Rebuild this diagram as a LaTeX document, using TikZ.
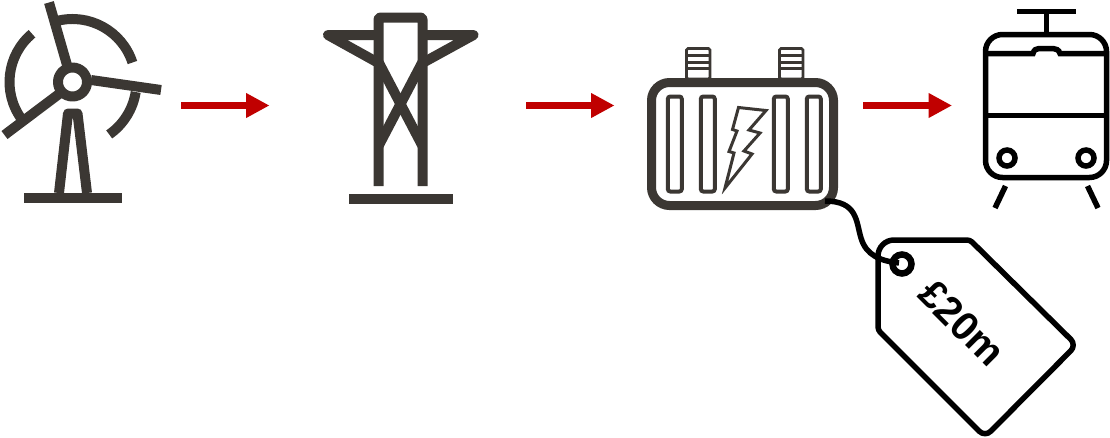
\documentclass[tikz,border=0pt]{standalone}
\usepackage{fontspec}
\setmainfont{Liberation Sans}
\usetikzlibrary{arrows.meta}
\definecolor{ink}{HTML}{3B3733}
\definecolor{flow}{HTML}{C00000}
\tikzset{
  icon/.style={draw=ink,line width=10pt,line join=round},
  thin part/.style={draw=ink,line width=4pt,rounded corners=2.5pt},
  blk/.style={draw=black,line width=5.5pt},
  flow arrow/.style={draw=flow,line width=7.5pt,-{Triangle[length=23.5pt,width=23.5pt,fill=flow]}},
}
\begin{document}
\begin{tikzpicture}[x=1pt,y=-1pt]
\useasboundingbox (0,0) rectangle (1110,437);
% turbine
\coordinate (hub) at (72.5,82);
\draw[icon] (hub) circle[radius=14.5];
\draw[icon] (49,2.5) -- (67,65);
\draw[icon] (91,80) -- (161,90);
\draw[icon] (4.5,135) -- (59,94);
\draw[icon] ([shift={(-104:63)}]hub) arc[start angle=-104,end angle=-18,radius=63];
\draw[icon] ([shift={(-130:63)}]hub) arc[start angle=-130,end angle=-216,radius=63];
\draw[icon] ([shift={(9:64)}]hub) arc[start angle=9,end angle=55,radius=64];
\draw[icon] (59,193) -- (68,113.5) -- (77.5,113.5) -- (87,193);
\draw[icon,line join=miter] (24,197.5) -- (122,197.5);
% pylon
\draw[icon,rounded corners=2pt] (378.5,186) -- (378.5,17.5) -- (422.5,17.5) -- (422.5,186);
\draw[icon] (378.5,35) -- (328,35) -- (378.5,63);
\draw[icon] (422.5,35) -- (473.5,35) -- (422.5,63);
\draw[icon] (378.5,62) -- (422.5,146);
\draw[icon] (422.5,62) -- (378.5,146);
\draw[icon,line join=miter] (349,199) -- (453,199);
% transformer
\foreach \xx in {686,779}{
  \draw[draw=ink,line width=2.8pt,rounded corners=1.5pt,fill=white] (\xx+0.5,48.5) rectangle (\xx+24,79);
  \foreach \yy in {55.3,62,68.8}{
    \draw[draw=ink,line width=3pt] (\xx+0.5,\yy) -- (\xx+24,\yy);
  }
}
\draw[draw=ink,line width=9pt,rounded corners=18pt,fill=white] (651.5,82.5) rectangle (833.5,205.5);
\foreach \xx in {666,699,772,805}{
  \draw[thin part] (\xx+1.8,96.5) rectangle (\xx+15.8,191.5);
}
\draw[draw=ink,line width=3pt,line join=miter,miter limit=20] (738.5,107.5) -- (766,110.5) -- (749,130) -- (760,133) -- (744,151) -- (752,154) -- (725,188) -- (734,153) -- (729,151.5) -- (737,131) -- (732.5,129.5) -- cycle;
% train
\draw[blk] (1017,11.5) -- (1076,11.5);
\draw[blk] (1046.5,14) -- (1046.5,34);
\draw[blk,rounded corners=17pt] (985.5,34.5) rectangle (1106.5,177.5);
\draw[blk] (985.5,53.5) -- (1033,53.5) .. controls (1034,50) and (1036,48.5) .. (1039,48.5) -- (1053,48.5) .. controls (1056,48.5) and (1059,50) .. (1060,53.5) -- (1106.5,53.5);
\draw[blk] (985.5,115.5) -- (1106.5,115.5);
\draw[blk] (1007,158) circle[radius=8];
\draw[blk] (1086,158) circle[radius=8];
\draw[blk] (1005.5,186) -- (995,208);
\draw[blk] (1087.5,186) -- (1098,208);
% tag
\coordinate (hole) at (902,264);
\draw[blk,rounded corners=8pt,line join=round] (878,300) [rounded corners=16pt] -- (878,240) [rounded corners=3pt] -- (970,240) [rounded corners=8pt] -- (1076.5,345) -- (985,437) [rounded corners=3pt] -- (878,330) -- cycle;
\draw[draw=black,line width=6.5pt] (hole) circle[radius=9.5];
\draw[draw=black,line width=5.5pt] (825,201) .. controls (858,201) and (856,222) .. (861,238) .. controls (866,255) and (880,261) .. (899,263);
\node[rotate=-45,font=\bfseries\fontsize{40}{40}\selectfont,text=black] (price) at (962,323) {£20m};
% arrows
\coordinate (a1) at (181,105.5);\coordinate (b1) at (269.5,105.5);
\coordinate (a2) at (526,105.5);\coordinate (b2) at (614.5,105.5);
\coordinate (a3) at (863,105.5);\coordinate (b3) at (952,105.5);
\draw[flow arrow] (a1) -- (b1);
\draw[flow arrow] (a2) -- (b2);
\draw[flow arrow] (a3) -- (b3);
\end{tikzpicture}
\end{document}
